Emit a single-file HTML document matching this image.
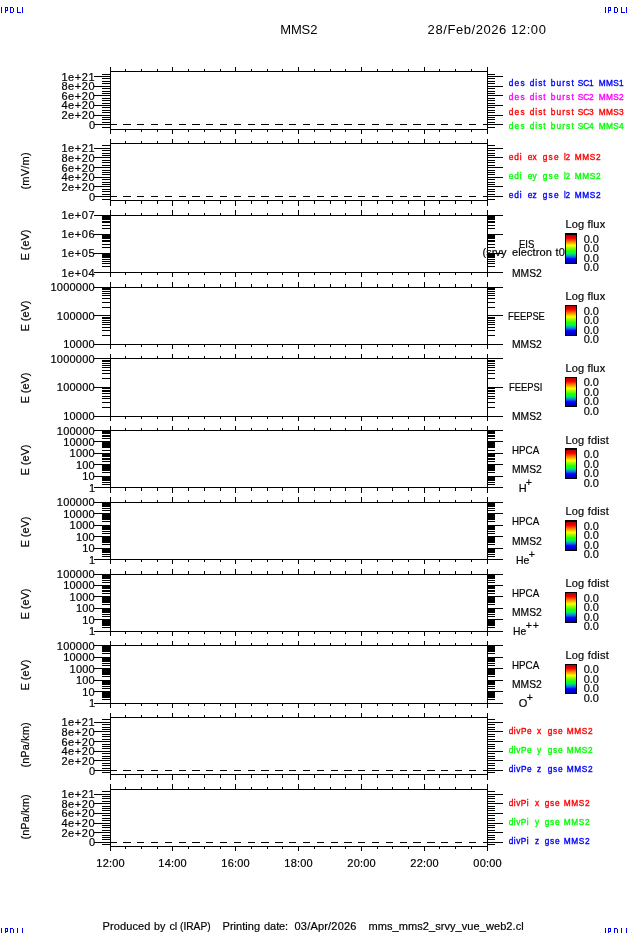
<!DOCTYPE html>
<html><head><meta charset="utf-8"><title>MMS2 28/Feb/2026 12:00</title>
<style>
html,body{margin:0;padding:0;background:#fff;}
body{width:630px;height:934px;position:relative;overflow:hidden;font-family:"Liberation Sans",sans-serif;color:#000;}
#labels{position:absolute;left:0;top:0;width:630px;height:934px;will-change:transform;}
.t{position:absolute;white-space:pre;line-height:1;-webkit-text-stroke:0.2px #000;font-family:"Liberation Sans",sans-serif;}
</style></head><body>
<svg width="630" height="934" viewBox="0 0 630 934" shape-rendering="crispEdges" style="position:absolute;left:0;top:0"><defs><linearGradient id="rb" x1="0" y1="0" x2="0" y2="1"><stop offset="0" stop-color="#b00000"/><stop offset="0.07" stop-color="#e00000"/><stop offset="0.12" stop-color="#ff0000"/><stop offset="0.24" stop-color="#ff8000"/><stop offset="0.37" stop-color="#ffff00"/><stop offset="0.48" stop-color="#80ff00"/><stop offset="0.58" stop-color="#20ff00"/><stop offset="0.64" stop-color="#00ff50"/><stop offset="0.71" stop-color="#00c0a0"/><stop offset="0.78" stop-color="#0070e8"/><stop offset="0.85" stop-color="#0000ff"/><stop offset="0.93" stop-color="#0000e0"/><stop offset="1" stop-color="#0000a0"/></linearGradient></defs><path d="M110 71h378v1h-378zM110 129h378v1h-378zM110 67h1v67h-1zM487 67h1v67h-1zM110 67h1v5h-1zM110 129h1v5h-1zM125 69h1v3h-1zM125 129h1v3h-1zM141 69h1v3h-1zM141 129h1v3h-1zM157 69h1v3h-1zM157 129h1v3h-1zM172 67h1v5h-1zM172 129h1v5h-1zM188 69h1v3h-1zM188 129h1v3h-1zM204 69h1v3h-1zM204 129h1v3h-1zM220 69h1v3h-1zM220 129h1v3h-1zM235 67h1v5h-1zM235 129h1v5h-1zM251 69h1v3h-1zM251 129h1v3h-1zM267 69h1v3h-1zM267 129h1v3h-1zM282 69h1v3h-1zM282 129h1v3h-1zM298 67h1v5h-1zM298 129h1v5h-1zM314 69h1v3h-1zM314 129h1v3h-1zM330 69h1v3h-1zM330 129h1v3h-1zM345 69h1v3h-1zM345 129h1v3h-1zM361 67h1v5h-1zM361 129h1v5h-1zM377 69h1v3h-1zM377 129h1v3h-1zM392 69h1v3h-1zM392 129h1v3h-1zM408 69h1v3h-1zM408 129h1v3h-1zM424 67h1v5h-1zM424 129h1v5h-1zM439 69h1v3h-1zM439 129h1v3h-1zM455 69h1v3h-1zM455 129h1v3h-1zM471 69h1v3h-1zM471 129h1v3h-1zM487 67h1v5h-1zM487 129h1v5h-1zM110 143h378v1h-378zM110 200h378v1h-378zM110 139h1v67h-1zM487 139h1v67h-1zM110 139h1v5h-1zM110 200h1v6h-1zM125 141h1v3h-1zM125 200h1v4h-1zM141 141h1v3h-1zM141 200h1v4h-1zM157 141h1v3h-1zM157 200h1v4h-1zM172 139h1v5h-1zM172 200h1v6h-1zM188 141h1v3h-1zM188 200h1v4h-1zM204 141h1v3h-1zM204 200h1v4h-1zM220 141h1v3h-1zM220 200h1v4h-1zM235 139h1v5h-1zM235 200h1v6h-1zM251 141h1v3h-1zM251 200h1v4h-1zM267 141h1v3h-1zM267 200h1v4h-1zM282 141h1v3h-1zM282 200h1v4h-1zM298 139h1v5h-1zM298 200h1v6h-1zM314 141h1v3h-1zM314 200h1v4h-1zM330 141h1v3h-1zM330 200h1v4h-1zM345 141h1v3h-1zM345 200h1v4h-1zM361 139h1v5h-1zM361 200h1v6h-1zM377 141h1v3h-1zM377 200h1v4h-1zM392 141h1v3h-1zM392 200h1v4h-1zM408 141h1v3h-1zM408 200h1v4h-1zM424 139h1v5h-1zM424 200h1v6h-1zM439 141h1v3h-1zM439 200h1v4h-1zM455 141h1v3h-1zM455 200h1v4h-1zM471 141h1v3h-1zM471 200h1v4h-1zM487 139h1v5h-1zM487 200h1v6h-1zM110 215h378v1h-378zM110 272h378v1h-378zM110 210h1v67h-1zM487 210h1v67h-1zM110 210h1v6h-1zM110 272h1v5h-1zM125 213h1v3h-1zM125 272h1v3h-1zM141 213h1v3h-1zM141 272h1v3h-1zM157 213h1v3h-1zM157 272h1v3h-1zM172 210h1v6h-1zM172 272h1v5h-1zM188 213h1v3h-1zM188 272h1v3h-1zM204 213h1v3h-1zM204 272h1v3h-1zM220 213h1v3h-1zM220 272h1v3h-1zM235 210h1v6h-1zM235 272h1v5h-1zM251 213h1v3h-1zM251 272h1v3h-1zM267 213h1v3h-1zM267 272h1v3h-1zM282 213h1v3h-1zM282 272h1v3h-1zM298 210h1v6h-1zM298 272h1v5h-1zM314 213h1v3h-1zM314 272h1v3h-1zM330 213h1v3h-1zM330 272h1v3h-1zM345 213h1v3h-1zM345 272h1v3h-1zM361 210h1v6h-1zM361 272h1v5h-1zM377 213h1v3h-1zM377 272h1v3h-1zM392 213h1v3h-1zM392 272h1v3h-1zM408 213h1v3h-1zM408 272h1v3h-1zM424 210h1v6h-1zM424 272h1v5h-1zM439 213h1v3h-1zM439 272h1v3h-1zM455 213h1v3h-1zM455 272h1v3h-1zM471 213h1v3h-1zM471 272h1v3h-1zM487 210h1v6h-1zM487 272h1v5h-1zM110 287h378v1h-378zM110 344h378v1h-378zM110 282h1v67h-1zM487 282h1v67h-1zM110 282h1v6h-1zM110 344h1v5h-1zM125 284h1v4h-1zM125 344h1v3h-1zM141 284h1v4h-1zM141 344h1v3h-1zM157 284h1v4h-1zM157 344h1v3h-1zM172 282h1v6h-1zM172 344h1v5h-1zM188 284h1v4h-1zM188 344h1v3h-1zM204 284h1v4h-1zM204 344h1v3h-1zM220 284h1v4h-1zM220 344h1v3h-1zM235 282h1v6h-1zM235 344h1v5h-1zM251 284h1v4h-1zM251 344h1v3h-1zM267 284h1v4h-1zM267 344h1v3h-1zM282 284h1v4h-1zM282 344h1v3h-1zM298 282h1v6h-1zM298 344h1v5h-1zM314 284h1v4h-1zM314 344h1v3h-1zM330 284h1v4h-1zM330 344h1v3h-1zM345 284h1v4h-1zM345 344h1v3h-1zM361 282h1v6h-1zM361 344h1v5h-1zM377 284h1v4h-1zM377 344h1v3h-1zM392 284h1v4h-1zM392 344h1v3h-1zM408 284h1v4h-1zM408 344h1v3h-1zM424 282h1v6h-1zM424 344h1v5h-1zM439 284h1v4h-1zM439 344h1v3h-1zM455 284h1v4h-1zM455 344h1v3h-1zM471 284h1v4h-1zM471 344h1v3h-1zM487 282h1v6h-1zM487 344h1v5h-1zM110 358h378v1h-378zM110 416h378v1h-378zM110 354h1v67h-1zM487 354h1v67h-1zM110 354h1v5h-1zM110 416h1v5h-1zM125 356h1v3h-1zM125 416h1v3h-1zM141 356h1v3h-1zM141 416h1v3h-1zM157 356h1v3h-1zM157 416h1v3h-1zM172 354h1v5h-1zM172 416h1v5h-1zM188 356h1v3h-1zM188 416h1v3h-1zM204 356h1v3h-1zM204 416h1v3h-1zM220 356h1v3h-1zM220 416h1v3h-1zM235 354h1v5h-1zM235 416h1v5h-1zM251 356h1v3h-1zM251 416h1v3h-1zM267 356h1v3h-1zM267 416h1v3h-1zM282 356h1v3h-1zM282 416h1v3h-1zM298 354h1v5h-1zM298 416h1v5h-1zM314 356h1v3h-1zM314 416h1v3h-1zM330 356h1v3h-1zM330 416h1v3h-1zM345 356h1v3h-1zM345 416h1v3h-1zM361 354h1v5h-1zM361 416h1v5h-1zM377 356h1v3h-1zM377 416h1v3h-1zM392 356h1v3h-1zM392 416h1v3h-1zM408 356h1v3h-1zM408 416h1v3h-1zM424 354h1v5h-1zM424 416h1v5h-1zM439 356h1v3h-1zM439 416h1v3h-1zM455 356h1v3h-1zM455 416h1v3h-1zM471 356h1v3h-1zM471 416h1v3h-1zM487 354h1v5h-1zM487 416h1v5h-1zM110 430h378v1h-378zM110 487h378v1h-378zM110 426h1v67h-1zM487 426h1v67h-1zM110 426h1v5h-1zM110 487h1v6h-1zM125 428h1v3h-1zM125 487h1v4h-1zM141 428h1v3h-1zM141 487h1v4h-1zM157 428h1v3h-1zM157 487h1v4h-1zM172 426h1v5h-1zM172 487h1v6h-1zM188 428h1v3h-1zM188 487h1v4h-1zM204 428h1v3h-1zM204 487h1v4h-1zM220 428h1v3h-1zM220 487h1v4h-1zM235 426h1v5h-1zM235 487h1v6h-1zM251 428h1v3h-1zM251 487h1v4h-1zM267 428h1v3h-1zM267 487h1v4h-1zM282 428h1v3h-1zM282 487h1v4h-1zM298 426h1v5h-1zM298 487h1v6h-1zM314 428h1v3h-1zM314 487h1v4h-1zM330 428h1v3h-1zM330 487h1v4h-1zM345 428h1v3h-1zM345 487h1v4h-1zM361 426h1v5h-1zM361 487h1v6h-1zM377 428h1v3h-1zM377 487h1v4h-1zM392 428h1v3h-1zM392 487h1v4h-1zM408 428h1v3h-1zM408 487h1v4h-1zM424 426h1v5h-1zM424 487h1v6h-1zM439 428h1v3h-1zM439 487h1v4h-1zM455 428h1v3h-1zM455 487h1v4h-1zM471 428h1v3h-1zM471 487h1v4h-1zM487 426h1v5h-1zM487 487h1v6h-1zM110 502h378v1h-378zM110 559h378v1h-378zM110 497h1v67h-1zM487 497h1v67h-1zM110 497h1v6h-1zM110 559h1v5h-1zM125 500h1v3h-1zM125 559h1v3h-1zM141 500h1v3h-1zM141 559h1v3h-1zM157 500h1v3h-1zM157 559h1v3h-1zM172 497h1v6h-1zM172 559h1v5h-1zM188 500h1v3h-1zM188 559h1v3h-1zM204 500h1v3h-1zM204 559h1v3h-1zM220 500h1v3h-1zM220 559h1v3h-1zM235 497h1v6h-1zM235 559h1v5h-1zM251 500h1v3h-1zM251 559h1v3h-1zM267 500h1v3h-1zM267 559h1v3h-1zM282 500h1v3h-1zM282 559h1v3h-1zM298 497h1v6h-1zM298 559h1v5h-1zM314 500h1v3h-1zM314 559h1v3h-1zM330 500h1v3h-1zM330 559h1v3h-1zM345 500h1v3h-1zM345 559h1v3h-1zM361 497h1v6h-1zM361 559h1v5h-1zM377 500h1v3h-1zM377 559h1v3h-1zM392 500h1v3h-1zM392 559h1v3h-1zM408 500h1v3h-1zM408 559h1v3h-1zM424 497h1v6h-1zM424 559h1v5h-1zM439 500h1v3h-1zM439 559h1v3h-1zM455 500h1v3h-1zM455 559h1v3h-1zM471 500h1v3h-1zM471 559h1v3h-1zM487 497h1v6h-1zM487 559h1v5h-1zM110 574h378v1h-378zM110 631h378v1h-378zM110 569h1v67h-1zM487 569h1v67h-1zM110 569h1v6h-1zM110 631h1v5h-1zM125 571h1v4h-1zM125 631h1v3h-1zM141 571h1v4h-1zM141 631h1v3h-1zM157 571h1v4h-1zM157 631h1v3h-1zM172 569h1v6h-1zM172 631h1v5h-1zM188 571h1v4h-1zM188 631h1v3h-1zM204 571h1v4h-1zM204 631h1v3h-1zM220 571h1v4h-1zM220 631h1v3h-1zM235 569h1v6h-1zM235 631h1v5h-1zM251 571h1v4h-1zM251 631h1v3h-1zM267 571h1v4h-1zM267 631h1v3h-1zM282 571h1v4h-1zM282 631h1v3h-1zM298 569h1v6h-1zM298 631h1v5h-1zM314 571h1v4h-1zM314 631h1v3h-1zM330 571h1v4h-1zM330 631h1v3h-1zM345 571h1v4h-1zM345 631h1v3h-1zM361 569h1v6h-1zM361 631h1v5h-1zM377 571h1v4h-1zM377 631h1v3h-1zM392 571h1v4h-1zM392 631h1v3h-1zM408 571h1v4h-1zM408 631h1v3h-1zM424 569h1v6h-1zM424 631h1v5h-1zM439 571h1v4h-1zM439 631h1v3h-1zM455 571h1v4h-1zM455 631h1v3h-1zM471 571h1v4h-1zM471 631h1v3h-1zM487 569h1v6h-1zM487 631h1v5h-1zM110 645h378v1h-378zM110 703h378v1h-378zM110 641h1v67h-1zM487 641h1v67h-1zM110 641h1v5h-1zM110 703h1v5h-1zM125 643h1v3h-1zM125 703h1v3h-1zM141 643h1v3h-1zM141 703h1v3h-1zM157 643h1v3h-1zM157 703h1v3h-1zM172 641h1v5h-1zM172 703h1v5h-1zM188 643h1v3h-1zM188 703h1v3h-1zM204 643h1v3h-1zM204 703h1v3h-1zM220 643h1v3h-1zM220 703h1v3h-1zM235 641h1v5h-1zM235 703h1v5h-1zM251 643h1v3h-1zM251 703h1v3h-1zM267 643h1v3h-1zM267 703h1v3h-1zM282 643h1v3h-1zM282 703h1v3h-1zM298 641h1v5h-1zM298 703h1v5h-1zM314 643h1v3h-1zM314 703h1v3h-1zM330 643h1v3h-1zM330 703h1v3h-1zM345 643h1v3h-1zM345 703h1v3h-1zM361 641h1v5h-1zM361 703h1v5h-1zM377 643h1v3h-1zM377 703h1v3h-1zM392 643h1v3h-1zM392 703h1v3h-1zM408 643h1v3h-1zM408 703h1v3h-1zM424 641h1v5h-1zM424 703h1v5h-1zM439 643h1v3h-1zM439 703h1v3h-1zM455 643h1v3h-1zM455 703h1v3h-1zM471 643h1v3h-1zM471 703h1v3h-1zM487 641h1v5h-1zM487 703h1v5h-1zM110 717h378v1h-378zM110 774h378v1h-378zM110 713h1v67h-1zM487 713h1v67h-1zM110 713h1v5h-1zM110 774h1v6h-1zM125 715h1v3h-1zM125 774h1v4h-1zM141 715h1v3h-1zM141 774h1v4h-1zM157 715h1v3h-1zM157 774h1v4h-1zM172 713h1v5h-1zM172 774h1v6h-1zM188 715h1v3h-1zM188 774h1v4h-1zM204 715h1v3h-1zM204 774h1v4h-1zM220 715h1v3h-1zM220 774h1v4h-1zM235 713h1v5h-1zM235 774h1v6h-1zM251 715h1v3h-1zM251 774h1v4h-1zM267 715h1v3h-1zM267 774h1v4h-1zM282 715h1v3h-1zM282 774h1v4h-1zM298 713h1v5h-1zM298 774h1v6h-1zM314 715h1v3h-1zM314 774h1v4h-1zM330 715h1v3h-1zM330 774h1v4h-1zM345 715h1v3h-1zM345 774h1v4h-1zM361 713h1v5h-1zM361 774h1v6h-1zM377 715h1v3h-1zM377 774h1v4h-1zM392 715h1v3h-1zM392 774h1v4h-1zM408 715h1v3h-1zM408 774h1v4h-1zM424 713h1v5h-1zM424 774h1v6h-1zM439 715h1v3h-1zM439 774h1v4h-1zM455 715h1v3h-1zM455 774h1v4h-1zM471 715h1v3h-1zM471 774h1v4h-1zM487 713h1v5h-1zM487 774h1v6h-1zM110 789h378v1h-378zM110 846h378v1h-378zM110 784h1v67h-1zM487 784h1v67h-1zM110 784h1v6h-1zM110 846h1v5h-1zM125 787h1v3h-1zM125 846h1v3h-1zM141 787h1v3h-1zM141 846h1v3h-1zM157 787h1v3h-1zM157 846h1v3h-1zM172 784h1v6h-1zM172 846h1v5h-1zM188 787h1v3h-1zM188 846h1v3h-1zM204 787h1v3h-1zM204 846h1v3h-1zM220 787h1v3h-1zM220 846h1v3h-1zM235 784h1v6h-1zM235 846h1v5h-1zM251 787h1v3h-1zM251 846h1v3h-1zM267 787h1v3h-1zM267 846h1v3h-1zM282 787h1v3h-1zM282 846h1v3h-1zM298 784h1v6h-1zM298 846h1v5h-1zM314 787h1v3h-1zM314 846h1v3h-1zM330 787h1v3h-1zM330 846h1v3h-1zM345 787h1v3h-1zM345 846h1v3h-1zM361 784h1v6h-1zM361 846h1v5h-1zM377 787h1v3h-1zM377 846h1v3h-1zM392 787h1v3h-1zM392 846h1v3h-1zM408 787h1v3h-1zM408 846h1v3h-1zM424 784h1v6h-1zM424 846h1v5h-1zM439 787h1v3h-1zM439 846h1v3h-1zM455 787h1v3h-1zM455 846h1v3h-1zM471 787h1v3h-1zM471 846h1v3h-1zM487 784h1v6h-1zM487 846h1v5h-1zM102 127h9v1h-9zM487 127h8v1h-8zM94 124h17v1h-17zM487 124h16v1h-16zM102 122h9v1h-9zM487 122h8v1h-8zM102 119h9v1h-9zM487 119h8v1h-8zM102 117h9v1h-9zM487 117h8v1h-8zM94 115h17v1h-17zM487 115h16v1h-16zM102 112h9v1h-9zM487 112h8v1h-8zM102 110h9v1h-9zM487 110h8v1h-8zM102 107h9v1h-9zM487 107h8v1h-8zM94 105h17v1h-17zM487 105h16v1h-16zM102 103h9v1h-9zM487 103h8v1h-8zM102 100h9v1h-9zM487 100h8v1h-8zM102 98h9v1h-9zM487 98h8v1h-8zM94 95h17v1h-17zM487 95h16v1h-16zM102 93h9v1h-9zM487 93h8v1h-8zM102 91h9v1h-9zM487 91h8v1h-8zM102 88h9v1h-9zM487 88h8v1h-8zM94 86h17v1h-17zM487 86h16v1h-16zM102 83h9v1h-9zM487 83h8v1h-8zM102 81h9v1h-9zM487 81h8v1h-8zM102 78h9v1h-9zM487 78h8v1h-8zM94 76h17v1h-17zM487 76h16v1h-16zM102 74h9v1h-9zM487 74h8v1h-8zM102 199h9v1h-9zM487 199h8v1h-8zM94 196h17v1h-17zM487 196h16v1h-16zM102 194h9v1h-9zM487 194h8v1h-8zM102 191h9v1h-9zM487 191h8v1h-8zM102 189h9v1h-9zM487 189h8v1h-8zM94 186h17v1h-17zM487 186h16v1h-16zM102 184h9v1h-9zM487 184h8v1h-8zM102 182h9v1h-9zM487 182h8v1h-8zM102 179h9v1h-9zM487 179h8v1h-8zM94 177h17v1h-17zM487 177h16v1h-16zM102 174h9v1h-9zM487 174h8v1h-8zM102 172h9v1h-9zM487 172h8v1h-8zM102 170h9v1h-9zM487 170h8v1h-8zM94 167h17v1h-17zM487 167h16v1h-16zM102 165h9v1h-9zM487 165h8v1h-8zM102 162h9v1h-9zM487 162h8v1h-8zM102 160h9v1h-9zM487 160h8v1h-8zM94 157h17v1h-17zM487 157h16v1h-16zM102 155h9v1h-9zM487 155h8v1h-8zM102 153h9v1h-9zM487 153h8v1h-8zM102 150h9v1h-9zM487 150h8v1h-8zM94 148h17v1h-17zM487 148h16v1h-16zM102 145h9v1h-9zM487 145h8v1h-8zM102 772h9v1h-9zM487 772h8v1h-8zM94 770h17v1h-17zM487 770h16v1h-16zM102 768h9v1h-9zM487 768h8v1h-8zM102 765h9v1h-9zM487 765h8v1h-8zM102 763h9v1h-9zM487 763h8v1h-8zM94 760h17v1h-17zM487 760h16v1h-16zM102 758h9v1h-9zM487 758h8v1h-8zM102 756h9v1h-9zM487 756h8v1h-8zM102 753h9v1h-9zM487 753h8v1h-8zM94 751h17v1h-17zM487 751h16v1h-16zM102 748h9v1h-9zM487 748h8v1h-8zM102 746h9v1h-9zM487 746h8v1h-8zM102 744h9v1h-9zM487 744h8v1h-8zM94 741h17v1h-17zM487 741h16v1h-16zM102 739h9v1h-9zM487 739h8v1h-8zM102 736h9v1h-9zM487 736h8v1h-8zM102 734h9v1h-9zM487 734h8v1h-8zM94 731h17v1h-17zM487 731h16v1h-16zM102 729h9v1h-9zM487 729h8v1h-8zM102 727h9v1h-9zM487 727h8v1h-8zM102 724h9v1h-9zM487 724h8v1h-8zM94 722h17v1h-17zM487 722h16v1h-16zM102 719h9v1h-9zM487 719h8v1h-8zM102 844h9v1h-9zM487 844h8v1h-8zM94 842h17v1h-17zM487 842h16v1h-16zM102 839h9v1h-9zM487 839h8v1h-8zM102 837h9v1h-9zM487 837h8v1h-8zM102 835h9v1h-9zM487 835h8v1h-8zM94 832h17v1h-17zM487 832h16v1h-16zM102 830h9v1h-9zM487 830h8v1h-8zM102 827h9v1h-9zM487 827h8v1h-8zM102 825h9v1h-9zM487 825h8v1h-8zM94 823h17v1h-17zM487 823h16v1h-16zM102 820h9v1h-9zM487 820h8v1h-8zM102 818h9v1h-9zM487 818h8v1h-8zM102 815h9v1h-9zM487 815h8v1h-8zM94 813h17v1h-17zM487 813h16v1h-16zM102 810h9v1h-9zM487 810h8v1h-8zM102 808h9v1h-9zM487 808h8v1h-8zM102 806h9v1h-9zM487 806h8v1h-8zM94 803h17v1h-17zM487 803h16v1h-16zM102 801h9v1h-9zM487 801h8v1h-8zM102 798h9v1h-9zM487 798h8v1h-8zM102 796h9v1h-9zM487 796h8v1h-8zM94 794h17v1h-17zM487 794h16v1h-16zM102 791h9v1h-9zM487 791h8v1h-8zM94 215h17v1h-17zM487 215h16v1h-16zM102 228h9v1h-9zM487 228h8v1h-8zM102 225h9v1h-9zM487 225h8v1h-8zM102 222h9v1h-9zM487 222h8v1h-8zM102 221h9v1h-9zM487 221h8v1h-8zM102 219h9v1h-9zM487 219h8v1h-8zM102 218h9v1h-9zM487 218h8v1h-8zM102 217h9v1h-9zM487 217h8v1h-8zM102 216h9v1h-9zM487 216h8v1h-8zM94 234h17v1h-17zM487 234h16v1h-16zM102 247h9v1h-9zM487 247h8v1h-8zM102 244h9v1h-9zM487 244h8v1h-8zM102 241h9v1h-9zM487 241h8v1h-8zM102 240h9v1h-9zM487 240h8v1h-8zM102 238h9v1h-9zM487 238h8v1h-8zM102 237h9v1h-9zM487 237h8v1h-8zM102 236h9v1h-9zM487 236h8v1h-8zM102 235h9v1h-9zM487 235h8v1h-8zM94 253h17v1h-17zM487 253h16v1h-16zM102 266h9v1h-9zM487 266h8v1h-8zM102 263h9v1h-9zM487 263h8v1h-8zM102 261h9v1h-9zM487 261h8v1h-8zM102 259h9v1h-9zM487 259h8v1h-8zM102 257h9v1h-9zM487 257h8v1h-8zM102 256h9v1h-9zM487 256h8v1h-8zM102 255h9v1h-9zM487 255h8v1h-8zM102 254h9v1h-9zM487 254h8v1h-8zM94 272h17v1h-17zM487 272h16v1h-16zM94 287h17v1h-17zM487 287h16v1h-16zM102 307h9v1h-9zM487 307h8v1h-8zM102 302h9v1h-9zM487 302h8v1h-8zM102 298h9v1h-9zM487 298h8v1h-8zM102 295h9v1h-9zM487 295h8v1h-8zM102 293h9v1h-9zM487 293h8v1h-8zM102 291h9v1h-9zM487 291h8v1h-8zM102 289h9v1h-9zM487 289h8v1h-8zM102 288h9v1h-9zM487 288h8v1h-8zM94 315h17v1h-17zM487 315h16v1h-16zM102 335h9v1h-9zM487 335h8v1h-8zM102 330h9v1h-9zM487 330h8v1h-8zM102 327h9v1h-9zM487 327h8v1h-8zM102 324h9v1h-9zM487 324h8v1h-8zM102 322h9v1h-9zM487 322h8v1h-8zM102 320h9v1h-9zM487 320h8v1h-8zM102 318h9v1h-9zM487 318h8v1h-8zM102 317h9v1h-9zM487 317h8v1h-8zM94 344h17v1h-17zM487 344h16v1h-16zM94 358h17v1h-17zM487 358h16v1h-16zM102 378h9v1h-9zM487 378h8v1h-8zM102 373h9v1h-9zM487 373h8v1h-8zM102 370h9v1h-9zM487 370h8v1h-8zM102 367h9v1h-9zM487 367h8v1h-8zM102 365h9v1h-9zM487 365h8v1h-8zM102 363h9v1h-9zM487 363h8v1h-8zM102 361h9v1h-9zM487 361h8v1h-8zM102 360h9v1h-9zM487 360h8v1h-8zM94 387h17v1h-17zM487 387h16v1h-16zM102 407h9v1h-9zM487 407h8v1h-8zM102 402h9v1h-9zM487 402h8v1h-8zM102 398h9v1h-9zM487 398h8v1h-8zM102 396h9v1h-9zM487 396h8v1h-8zM102 393h9v1h-9zM487 393h8v1h-8zM102 391h9v1h-9zM487 391h8v1h-8zM102 390h9v1h-9zM487 390h8v1h-8zM102 388h9v1h-9zM487 388h8v1h-8zM94 416h17v1h-17zM487 416h16v1h-16zM94 430h17v1h-17zM487 430h16v1h-16zM102 438h9v1h-9zM487 438h8v1h-8zM102 436h9v1h-9zM487 436h8v1h-8zM102 435h9v1h-9zM487 435h8v1h-8zM102 433h9v1h-9zM487 433h8v1h-8zM102 433h9v1h-9zM487 433h8v1h-8zM102 432h9v1h-9zM487 432h8v1h-8zM102 431h9v1h-9zM487 431h8v1h-8zM102 431h9v1h-9zM487 431h8v1h-8zM94 441h17v1h-17zM487 441h16v1h-16zM102 450h9v1h-9zM487 450h8v1h-8zM102 447h9v1h-9zM487 447h8v1h-8zM102 446h9v1h-9zM487 446h8v1h-8zM102 445h9v1h-9zM487 445h8v1h-8zM102 444h9v1h-9zM487 444h8v1h-8zM102 443h9v1h-9zM487 443h8v1h-8zM102 443h9v1h-9zM487 443h8v1h-8zM102 442h9v1h-9zM487 442h8v1h-8zM94 453h17v1h-17zM487 453h16v1h-16zM102 461h9v1h-9zM487 461h8v1h-8zM102 459h9v1h-9zM487 459h8v1h-8zM102 458h9v1h-9zM487 458h8v1h-8zM102 456h9v1h-9zM487 456h8v1h-8zM102 456h9v1h-9zM487 456h8v1h-8zM102 455h9v1h-9zM487 455h8v1h-8zM102 454h9v1h-9zM487 454h8v1h-8zM102 453h9v1h-9zM487 453h8v1h-8zM94 464h17v1h-17zM487 464h16v1h-16zM102 472h9v1h-9zM487 472h8v1h-8zM102 470h9v1h-9zM487 470h8v1h-8zM102 469h9v1h-9zM487 469h8v1h-8zM102 468h9v1h-9zM487 468h8v1h-8zM102 467h9v1h-9zM487 467h8v1h-8zM102 466h9v1h-9zM487 466h8v1h-8zM102 466h9v1h-9zM487 466h8v1h-8zM102 465h9v1h-9zM487 465h8v1h-8zM94 476h17v1h-17zM487 476h16v1h-16zM102 484h9v1h-9zM487 484h8v1h-8zM102 482h9v1h-9zM487 482h8v1h-8zM102 480h9v1h-9zM487 480h8v1h-8zM102 479h9v1h-9zM487 479h8v1h-8zM102 478h9v1h-9zM487 478h8v1h-8zM102 478h9v1h-9zM487 478h8v1h-8zM102 477h9v1h-9zM487 477h8v1h-8zM102 476h9v1h-9zM487 476h8v1h-8zM94 487h17v1h-17zM487 487h16v1h-16zM94 502h17v1h-17zM487 502h16v1h-16zM102 510h9v1h-9zM487 510h8v1h-8zM102 508h9v1h-9zM487 508h8v1h-8zM102 506h9v1h-9zM487 506h8v1h-8zM102 505h9v1h-9zM487 505h8v1h-8zM102 504h9v1h-9zM487 504h8v1h-8zM102 504h9v1h-9zM487 504h8v1h-8zM102 503h9v1h-9zM487 503h8v1h-8zM102 502h9v1h-9zM487 502h8v1h-8zM94 513h17v1h-17zM487 513h16v1h-16zM102 521h9v1h-9zM487 521h8v1h-8zM102 519h9v1h-9zM487 519h8v1h-8zM102 518h9v1h-9zM487 518h8v1h-8zM102 517h9v1h-9zM487 517h8v1h-8zM102 516h9v1h-9zM487 516h8v1h-8zM102 515h9v1h-9zM487 515h8v1h-8zM102 514h9v1h-9zM487 514h8v1h-8zM102 514h9v1h-9zM487 514h8v1h-8zM94 525h17v1h-17zM487 525h16v1h-16zM102 533h9v1h-9zM487 533h8v1h-8zM102 531h9v1h-9zM487 531h8v1h-8zM102 529h9v1h-9zM487 529h8v1h-8zM102 528h9v1h-9zM487 528h8v1h-8zM102 527h9v1h-9zM487 527h8v1h-8zM102 526h9v1h-9zM487 526h8v1h-8zM102 526h9v1h-9zM487 526h8v1h-8zM102 525h9v1h-9zM487 525h8v1h-8zM94 536h17v1h-17zM487 536h16v1h-16zM102 544h9v1h-9zM487 544h8v1h-8zM102 542h9v1h-9zM487 542h8v1h-8zM102 541h9v1h-9zM487 541h8v1h-8zM102 540h9v1h-9zM487 540h8v1h-8zM102 539h9v1h-9zM487 539h8v1h-8zM102 538h9v1h-9zM487 538h8v1h-8zM102 537h9v1h-9zM487 537h8v1h-8zM102 537h9v1h-9zM487 537h8v1h-8zM94 548h17v1h-17zM487 548h16v1h-16zM102 556h9v1h-9zM487 556h8v1h-8zM102 554h9v1h-9zM487 554h8v1h-8zM102 552h9v1h-9zM487 552h8v1h-8zM102 551h9v1h-9zM487 551h8v1h-8zM102 550h9v1h-9zM487 550h8v1h-8zM102 549h9v1h-9zM487 549h8v1h-8zM102 549h9v1h-9zM487 549h8v1h-8zM102 548h9v1h-9zM487 548h8v1h-8zM94 559h17v1h-17zM487 559h16v1h-16zM94 574h17v1h-17zM487 574h16v1h-16zM102 582h9v1h-9zM487 582h8v1h-8zM102 580h9v1h-9zM487 580h8v1h-8zM102 578h9v1h-9zM487 578h8v1h-8zM102 577h9v1h-9zM487 577h8v1h-8zM102 576h9v1h-9zM487 576h8v1h-8zM102 575h9v1h-9zM487 575h8v1h-8zM102 575h9v1h-9zM487 575h8v1h-8zM102 574h9v1h-9zM487 574h8v1h-8zM94 585h17v1h-17zM487 585h16v1h-16zM102 593h9v1h-9zM487 593h8v1h-8zM102 591h9v1h-9zM487 591h8v1h-8zM102 590h9v1h-9zM487 590h8v1h-8zM102 588h9v1h-9zM487 588h8v1h-8zM102 588h9v1h-9zM487 588h8v1h-8zM102 587h9v1h-9zM487 587h8v1h-8zM102 586h9v1h-9zM487 586h8v1h-8zM102 586h9v1h-9zM487 586h8v1h-8zM94 596h17v1h-17zM487 596h16v1h-16zM102 604h9v1h-9zM487 604h8v1h-8zM102 602h9v1h-9zM487 602h8v1h-8zM102 601h9v1h-9zM487 601h8v1h-8zM102 600h9v1h-9zM487 600h8v1h-8zM102 599h9v1h-9zM487 599h8v1h-8zM102 598h9v1h-9zM487 598h8v1h-8zM102 598h9v1h-9zM487 598h8v1h-8zM102 597h9v1h-9zM487 597h8v1h-8zM94 608h17v1h-17zM487 608h16v1h-16zM102 616h9v1h-9zM487 616h8v1h-8zM102 614h9v1h-9zM487 614h8v1h-8zM102 612h9v1h-9zM487 612h8v1h-8zM102 611h9v1h-9zM487 611h8v1h-8zM102 610h9v1h-9zM487 610h8v1h-8zM102 610h9v1h-9zM487 610h8v1h-8zM102 609h9v1h-9zM487 609h8v1h-8zM102 608h9v1h-9zM487 608h8v1h-8zM94 619h17v1h-17zM487 619h16v1h-16zM102 627h9v1h-9zM487 627h8v1h-8zM102 625h9v1h-9zM487 625h8v1h-8zM102 624h9v1h-9zM487 624h8v1h-8zM102 623h9v1h-9zM487 623h8v1h-8zM102 622h9v1h-9zM487 622h8v1h-8zM102 621h9v1h-9zM487 621h8v1h-8zM102 621h9v1h-9zM487 621h8v1h-8zM102 620h9v1h-9zM487 620h8v1h-8zM94 631h17v1h-17zM487 631h16v1h-16zM94 645h17v1h-17zM487 645h16v1h-16zM102 653h9v1h-9zM487 653h8v1h-8zM102 651h9v1h-9zM487 651h8v1h-8zM102 650h9v1h-9zM487 650h8v1h-8zM102 649h9v1h-9zM487 649h8v1h-8zM102 648h9v1h-9zM487 648h8v1h-8zM102 647h9v1h-9zM487 647h8v1h-8zM102 646h9v1h-9zM487 646h8v1h-8zM102 646h9v1h-9zM487 646h8v1h-8zM94 657h17v1h-17zM487 657h16v1h-16zM102 665h9v1h-9zM487 665h8v1h-8zM102 663h9v1h-9zM487 663h8v1h-8zM102 661h9v1h-9zM487 661h8v1h-8zM102 660h9v1h-9zM487 660h8v1h-8zM102 659h9v1h-9zM487 659h8v1h-8zM102 659h9v1h-9zM487 659h8v1h-8zM102 658h9v1h-9zM487 658h8v1h-8zM102 657h9v1h-9zM487 657h8v1h-8zM94 668h17v1h-17zM487 668h16v1h-16zM102 676h9v1h-9zM487 676h8v1h-8zM102 674h9v1h-9zM487 674h8v1h-8zM102 673h9v1h-9zM487 673h8v1h-8zM102 672h9v1h-9zM487 672h8v1h-8zM102 671h9v1h-9zM487 671h8v1h-8zM102 670h9v1h-9zM487 670h8v1h-8zM102 669h9v1h-9zM487 669h8v1h-8zM102 669h9v1h-9zM487 669h8v1h-8zM94 680h17v1h-17zM487 680h16v1h-16zM102 688h9v1h-9zM487 688h8v1h-8zM102 686h9v1h-9zM487 686h8v1h-8zM102 684h9v1h-9zM487 684h8v1h-8zM102 683h9v1h-9zM487 683h8v1h-8zM102 682h9v1h-9zM487 682h8v1h-8zM102 681h9v1h-9zM487 681h8v1h-8zM102 681h9v1h-9zM487 681h8v1h-8zM102 680h9v1h-9zM487 680h8v1h-8zM94 691h17v1h-17zM487 691h16v1h-16zM102 699h9v1h-9zM487 699h8v1h-8zM102 697h9v1h-9zM487 697h8v1h-8zM102 696h9v1h-9zM487 696h8v1h-8zM102 695h9v1h-9zM487 695h8v1h-8zM102 694h9v1h-9zM487 694h8v1h-8zM102 693h9v1h-9zM487 693h8v1h-8zM102 692h9v1h-9zM487 692h8v1h-8zM102 692h9v1h-9zM487 692h8v1h-8zM94 703h17v1h-17zM487 703h16v1h-16z" fill="#000"/><path d="M109.4 124.5H488" stroke="#000" stroke-width="1" stroke-dasharray="7.3 6.52" fill="none"/><path d="M109.4 196.5H488" stroke="#000" stroke-width="1" stroke-dasharray="7.3 6.52" fill="none"/><path d="M109.4 770.5H488" stroke="#000" stroke-width="1" stroke-dasharray="7.3 6.52" fill="none"/><path d="M109.4 842.5H488" stroke="#000" stroke-width="1" stroke-dasharray="7.3 6.52" fill="none"/><g fill="#00f"><title>IPDLI</title><path d="M1 7h1v6h-1zM5 7h1v6h-1zM5 7h3v1h-3zM7 7h1v4h-1zM5 10h3v1h-3zM10 7h1v6h-1zM10 7h3v1h-3zM10 12h3v1h-3zM13 8h1v4h-1zM17 7h1v6h-1zM17 12h4v1h-4zM22 7h1v6h-1zM605 7h1v6h-1zM608 7h1v6h-1zM608 7h3v1h-3zM610 7h1v4h-1zM608 10h3v1h-3zM614 7h1v6h-1zM614 7h3v1h-3zM614 12h3v1h-3zM617 8h1v4h-1zM621 7h1v6h-1zM621 12h4v1h-4zM626 7h1v6h-1zM1 928h1v5h-1zM5 928h1v5h-1zM5 928h3v1h-3zM7 928h1v4h-1zM5 931h3v1h-3zM10 928h1v5h-1zM10 928h3v1h-3zM13 929h1v4h-1zM17 928h1v5h-1zM22 928h1v5h-1zM605 928h1v5h-1zM608 928h1v5h-1zM608 928h3v1h-3zM610 928h1v4h-1zM608 931h3v1h-3zM614 928h1v5h-1zM614 928h3v1h-3zM617 929h1v4h-1zM621 928h1v5h-1zM626 928h1v5h-1z"/></g></svg>
<div id="labels">
<span class="t" style="left:61.39px;top:71.69px;font-size:11px;letter-spacing:0.597px;">1e+21</span>
<span class="t" style="left:61.39px;top:80.69px;font-size:11px;letter-spacing:0.597px;">8e+20</span>
<span class="t" style="left:61.39px;top:90.69px;font-size:11px;letter-spacing:0.597px;">6e+20</span>
<span class="t" style="left:61.39px;top:99.69px;font-size:11px;letter-spacing:0.597px;">4e+20</span>
<span class="t" style="left:61.39px;top:109.69px;font-size:11px;letter-spacing:0.597px;">2e+20</span>
<span class="t" style="left:89.06px;top:119.69px;font-size:11px;letter-spacing:0.000px;">0</span>
<span class="t" style="left:61.39px;top:142.69px;font-size:11px;letter-spacing:0.597px;">1e+21</span>
<span class="t" style="left:61.39px;top:152.69px;font-size:11px;letter-spacing:0.597px;">8e+20</span>
<span class="t" style="left:61.39px;top:162.69px;font-size:11px;letter-spacing:0.597px;">6e+20</span>
<span class="t" style="left:61.39px;top:171.69px;font-size:11px;letter-spacing:0.597px;">4e+20</span>
<span class="t" style="left:61.39px;top:181.69px;font-size:11px;letter-spacing:0.597px;">2e+20</span>
<span class="t" style="left:89.06px;top:191.69px;font-size:11px;letter-spacing:0.000px;">0</span>
<span class="t" style="left:61.39px;top:716.69px;font-size:11px;letter-spacing:0.597px;">1e+21</span>
<span class="t" style="left:61.39px;top:726.69px;font-size:11px;letter-spacing:0.597px;">8e+20</span>
<span class="t" style="left:61.39px;top:736.69px;font-size:11px;letter-spacing:0.597px;">6e+20</span>
<span class="t" style="left:61.39px;top:745.69px;font-size:11px;letter-spacing:0.597px;">4e+20</span>
<span class="t" style="left:61.39px;top:755.69px;font-size:11px;letter-spacing:0.597px;">2e+20</span>
<span class="t" style="left:89.06px;top:765.69px;font-size:11px;letter-spacing:0.000px;">0</span>
<span class="t" style="left:61.39px;top:788.69px;font-size:11px;letter-spacing:0.597px;">1e+21</span>
<span class="t" style="left:61.39px;top:798.69px;font-size:11px;letter-spacing:0.597px;">8e+20</span>
<span class="t" style="left:61.39px;top:807.69px;font-size:11px;letter-spacing:0.597px;">6e+20</span>
<span class="t" style="left:61.39px;top:817.69px;font-size:11px;letter-spacing:0.597px;">4e+20</span>
<span class="t" style="left:61.39px;top:827.69px;font-size:11px;letter-spacing:0.597px;">2e+20</span>
<span class="t" style="left:89.06px;top:836.69px;font-size:11px;letter-spacing:0.000px;">0</span>
<span class="t" style="left:61.39px;top:209.69px;font-size:11px;letter-spacing:0.597px;">1e+07</span>
<span class="t" style="left:61.39px;top:228.69px;font-size:11px;letter-spacing:0.597px;">1e+06</span>
<span class="t" style="left:61.39px;top:247.69px;font-size:11px;letter-spacing:0.597px;">1e+05</span>
<span class="t" style="left:61.39px;top:267.69px;font-size:11px;letter-spacing:0.597px;">1e+04</span>
<span class="t" style="left:50.48px;top:281.69px;font-size:11px;letter-spacing:0.223px;">1000000</span>
<span class="t" style="left:56.84px;top:310.69px;font-size:11px;letter-spacing:0.221px;">100000</span>
<span class="t" style="left:63.20px;top:338.69px;font-size:11px;letter-spacing:0.218px;">10000</span>
<span class="t" style="left:50.48px;top:353.69px;font-size:11px;letter-spacing:0.223px;">1000000</span>
<span class="t" style="left:56.84px;top:381.69px;font-size:11px;letter-spacing:0.221px;">100000</span>
<span class="t" style="left:63.20px;top:410.69px;font-size:11px;letter-spacing:0.218px;">10000</span>
<span class="t" style="left:56.84px;top:425.69px;font-size:11px;letter-spacing:0.221px;">100000</span>
<span class="t" style="left:63.20px;top:436.69px;font-size:11px;letter-spacing:0.218px;">10000</span>
<span class="t" style="left:69.56px;top:447.69px;font-size:11px;letter-spacing:0.212px;">1000</span>
<span class="t" style="left:75.92px;top:459.69px;font-size:11px;letter-spacing:0.202px;">100</span>
<span class="t" style="left:82.28px;top:470.69px;font-size:11px;letter-spacing:0.169px;">10</span>
<span class="t" style="left:89.06px;top:482.69px;font-size:11px;letter-spacing:0.000px;">1</span>
<span class="t" style="left:56.84px;top:496.69px;font-size:11px;letter-spacing:0.221px;">100000</span>
<span class="t" style="left:63.20px;top:508.69px;font-size:11px;letter-spacing:0.218px;">10000</span>
<span class="t" style="left:69.56px;top:519.69px;font-size:11px;letter-spacing:0.212px;">1000</span>
<span class="t" style="left:75.92px;top:531.69px;font-size:11px;letter-spacing:0.202px;">100</span>
<span class="t" style="left:82.28px;top:542.69px;font-size:11px;letter-spacing:0.169px;">10</span>
<span class="t" style="left:89.06px;top:554.69px;font-size:11px;letter-spacing:0.000px;">1</span>
<span class="t" style="left:56.84px;top:568.69px;font-size:11px;letter-spacing:0.221px;">100000</span>
<span class="t" style="left:63.20px;top:579.69px;font-size:11px;letter-spacing:0.218px;">10000</span>
<span class="t" style="left:69.56px;top:591.69px;font-size:11px;letter-spacing:0.212px;">1000</span>
<span class="t" style="left:75.92px;top:602.69px;font-size:11px;letter-spacing:0.202px;">100</span>
<span class="t" style="left:82.28px;top:614.69px;font-size:11px;letter-spacing:0.169px;">10</span>
<span class="t" style="left:89.06px;top:625.69px;font-size:11px;letter-spacing:0.000px;">1</span>
<span class="t" style="left:56.84px;top:640.69px;font-size:11px;letter-spacing:0.221px;">100000</span>
<span class="t" style="left:63.20px;top:651.69px;font-size:11px;letter-spacing:0.218px;">10000</span>
<span class="t" style="left:69.56px;top:663.69px;font-size:11px;letter-spacing:0.212px;">1000</span>
<span class="t" style="left:75.92px;top:674.69px;font-size:11px;letter-spacing:0.202px;">100</span>
<span class="t" style="left:82.28px;top:686.69px;font-size:11px;letter-spacing:0.169px;">10</span>
<span class="t" style="left:89.06px;top:697.69px;font-size:11px;letter-spacing:0.000px;">1</span>
<span class="t" style="left:29.10px;top:171.29px;font-size:11px;letter-spacing:0.234px;transform-origin:0 0;transform:rotate(-90deg) translate(-18.60px,-9.31px);">(mV/m)</span>
<span class="t" style="left:29.10px;top:244.74px;font-size:11px;letter-spacing:-0.077px;transform-origin:0 0;transform:rotate(-90deg) translate(-15.40px,-9.31px);">E (eV)</span>
<span class="t" style="left:29.10px;top:316.49px;font-size:11px;letter-spacing:-0.077px;transform-origin:0 0;transform:rotate(-90deg) translate(-15.40px,-9.31px);">E (eV)</span>
<span class="t" style="left:29.10px;top:388.24px;font-size:11px;letter-spacing:-0.077px;transform-origin:0 0;transform:rotate(-90deg) translate(-15.40px,-9.31px);">E (eV)</span>
<span class="t" style="left:29.10px;top:460.00px;font-size:11px;letter-spacing:-0.077px;transform-origin:0 0;transform:rotate(-90deg) translate(-15.40px,-9.31px);">E (eV)</span>
<span class="t" style="left:29.10px;top:531.75px;font-size:11px;letter-spacing:-0.077px;transform-origin:0 0;transform:rotate(-90deg) translate(-15.40px,-9.31px);">E (eV)</span>
<span class="t" style="left:29.10px;top:603.50px;font-size:11px;letter-spacing:-0.077px;transform-origin:0 0;transform:rotate(-90deg) translate(-15.40px,-9.31px);">E (eV)</span>
<span class="t" style="left:29.10px;top:675.25px;font-size:11px;letter-spacing:-0.077px;transform-origin:0 0;transform:rotate(-90deg) translate(-15.40px,-9.31px);">E (eV)</span>
<span class="t" style="left:29.10px;top:745.30px;font-size:11px;letter-spacing:0.082px;transform-origin:0 0;transform:rotate(-90deg) translate(-22.60px,-9.31px);">(nPa/km)</span>
<span class="t" style="left:29.10px;top:817.05px;font-size:11px;letter-spacing:0.082px;transform-origin:0 0;transform:rotate(-90deg) translate(-22.60px,-9.31px);">(nPa/km)</span>
<span class="t" style="left:280.20px;top:23.00px;font-size:13px;letter-spacing:-0.121px;-webkit-text-stroke:0;">MMS2</span>
<span class="t" style="left:427.60px;top:23.00px;font-size:13px;letter-spacing:0.570px;-webkit-text-stroke:0;">28/Feb/2026 12:00</span>
<span class="t" style="left:96.35px;top:857.69px;font-size:11px;letter-spacing:0.184px;">12:00</span>
<span class="t" style="left:158.35px;top:857.69px;font-size:11px;letter-spacing:0.184px;">14:00</span>
<span class="t" style="left:221.35px;top:857.69px;font-size:11px;letter-spacing:0.184px;">16:00</span>
<span class="t" style="left:284.35px;top:857.69px;font-size:11px;letter-spacing:0.184px;">18:00</span>
<span class="t" style="left:347.35px;top:857.69px;font-size:11px;letter-spacing:0.184px;">20:00</span>
<span class="t" style="left:410.35px;top:857.69px;font-size:11px;letter-spacing:0.184px;">22:00</span>
<span class="t" style="left:473.35px;top:857.69px;font-size:11px;letter-spacing:0.184px;">00:00</span>
<span class="t" style="left:102.50px;top:920.69px;font-size:11px;letter-spacing:0.125px;">Produced</span>
<span class="t" style="left:153.50px;top:920.69px;font-size:11px;letter-spacing:0.000px;transform-origin:0 0;transform:scaleX(0.9720);">by</span>
<span class="t" style="left:169.50px;top:920.69px;font-size:11px;letter-spacing:-0.238px;">cl</span>
<span class="t" style="left:179.90px;top:920.69px;font-size:11px;letter-spacing:0.000px;transform-origin:0 0;transform:scaleX(0.9273);">(IRAP)</span>
<span class="t" style="left:222.50px;top:920.69px;font-size:11px;letter-spacing:0.041px;">Printing</span>
<span class="t" style="left:264.10px;top:920.69px;font-size:11px;letter-spacing:-0.100px;">date:</span>
<span class="t" style="left:294.50px;top:920.69px;font-size:11px;letter-spacing:0.200px;">03/Apr/2026</span>
<span class="t" style="left:368.50px;top:920.69px;font-size:11px;letter-spacing:0.072px;">mms_mms2_srvy_vue_web2.cl</span>
<span class="t" style="left:508.70px;top:79.17px;font-size:8.3px;letter-spacing:1.312px;color:#00f;-webkit-text-stroke:0.35px #00f;">des</span>
<span class="t" style="left:529.70px;top:79.17px;font-size:8.3px;letter-spacing:1.026px;color:#00f;-webkit-text-stroke:0.35px #00f;">dist</span>
<span class="t" style="left:550.70px;top:79.17px;font-size:8.3px;letter-spacing:1.137px;color:#00f;-webkit-text-stroke:0.35px #00f;">burst</span>
<span class="t" style="left:577.70px;top:79.17px;font-size:8.3px;letter-spacing:-0.062px;color:#00f;-webkit-text-stroke:0.35px #00f;">SC1</span>
<span class="t" style="left:598.70px;top:79.17px;font-size:8.3px;letter-spacing:0.349px;color:#00f;-webkit-text-stroke:0.35px #00f;">MMS1</span>
<span class="t" style="left:508.70px;top:93.17px;font-size:8.3px;letter-spacing:1.312px;color:#f0f;-webkit-text-stroke:0.35px #f0f;">des</span>
<span class="t" style="left:529.70px;top:93.17px;font-size:8.3px;letter-spacing:1.026px;color:#f0f;-webkit-text-stroke:0.35px #f0f;">dist</span>
<span class="t" style="left:550.70px;top:93.17px;font-size:8.3px;letter-spacing:1.137px;color:#f0f;-webkit-text-stroke:0.35px #f0f;">burst</span>
<span class="t" style="left:577.70px;top:93.17px;font-size:8.3px;letter-spacing:-0.062px;color:#f0f;-webkit-text-stroke:0.35px #f0f;">SC2</span>
<span class="t" style="left:598.70px;top:93.17px;font-size:8.3px;letter-spacing:0.349px;color:#f0f;-webkit-text-stroke:0.35px #f0f;">MMS2</span>
<span class="t" style="left:508.70px;top:108.17px;font-size:8.3px;letter-spacing:1.312px;color:#f00;-webkit-text-stroke:0.35px #f00;">des</span>
<span class="t" style="left:529.70px;top:108.17px;font-size:8.3px;letter-spacing:1.026px;color:#f00;-webkit-text-stroke:0.35px #f00;">dist</span>
<span class="t" style="left:550.70px;top:108.17px;font-size:8.3px;letter-spacing:1.137px;color:#f00;-webkit-text-stroke:0.35px #f00;">burst</span>
<span class="t" style="left:577.70px;top:108.17px;font-size:8.3px;letter-spacing:-0.062px;color:#f00;-webkit-text-stroke:0.35px #f00;">SC3</span>
<span class="t" style="left:598.70px;top:108.17px;font-size:8.3px;letter-spacing:0.349px;color:#f00;-webkit-text-stroke:0.35px #f00;">MMS3</span>
<span class="t" style="left:508.70px;top:122.17px;font-size:8.3px;letter-spacing:1.312px;color:#0f0;-webkit-text-stroke:0.35px #0f0;">des</span>
<span class="t" style="left:529.70px;top:122.17px;font-size:8.3px;letter-spacing:1.026px;color:#0f0;-webkit-text-stroke:0.35px #0f0;">dist</span>
<span class="t" style="left:550.70px;top:122.17px;font-size:8.3px;letter-spacing:1.137px;color:#0f0;-webkit-text-stroke:0.35px #0f0;">burst</span>
<span class="t" style="left:577.70px;top:122.17px;font-size:8.3px;letter-spacing:-0.062px;color:#0f0;-webkit-text-stroke:0.35px #0f0;">SC4</span>
<span class="t" style="left:598.70px;top:122.17px;font-size:8.3px;letter-spacing:0.349px;color:#0f0;-webkit-text-stroke:0.35px #0f0;">MMS4</span>
<span class="t" style="left:508.70px;top:153.17px;font-size:8.3px;letter-spacing:0.969px;color:#f00;-webkit-text-stroke:0.35px #f00;">edi</span>
<span class="t" style="left:527.70px;top:153.17px;font-size:8.3px;letter-spacing:0.234px;color:#f00;-webkit-text-stroke:0.35px #f00;">ex</span>
<span class="t" style="left:542.70px;top:153.17px;font-size:8.3px;letter-spacing:1.312px;color:#f00;-webkit-text-stroke:0.35px #f00;">gse</span>
<span class="t" style="left:563.70px;top:153.17px;font-size:8.3px;letter-spacing:0.000px;color:#f00;-webkit-text-stroke:0.35px #f00;transform-origin:0 0;transform:scaleX(0.9298);">l2</span>
<span class="t" style="left:574.70px;top:153.17px;font-size:8.3px;letter-spacing:0.682px;color:#f00;-webkit-text-stroke:0.35px #f00;">MMS2</span>
<span class="t" style="left:508.70px;top:172.17px;font-size:8.3px;letter-spacing:0.969px;color:#0f0;-webkit-text-stroke:0.35px #0f0;">edi</span>
<span class="t" style="left:527.70px;top:172.17px;font-size:8.3px;letter-spacing:0.234px;color:#0f0;-webkit-text-stroke:0.35px #0f0;">ey</span>
<span class="t" style="left:542.70px;top:172.17px;font-size:8.3px;letter-spacing:1.312px;color:#0f0;-webkit-text-stroke:0.35px #0f0;">gse</span>
<span class="t" style="left:563.70px;top:172.17px;font-size:8.3px;letter-spacing:0.000px;color:#0f0;-webkit-text-stroke:0.35px #0f0;transform-origin:0 0;transform:scaleX(0.9298);">l2</span>
<span class="t" style="left:574.70px;top:172.17px;font-size:8.3px;letter-spacing:0.682px;color:#0f0;-webkit-text-stroke:0.35px #0f0;">MMS2</span>
<span class="t" style="left:508.70px;top:191.17px;font-size:8.3px;letter-spacing:0.969px;color:#00f;-webkit-text-stroke:0.35px #00f;">edi</span>
<span class="t" style="left:527.70px;top:191.17px;font-size:8.3px;letter-spacing:0.234px;color:#00f;-webkit-text-stroke:0.35px #00f;">ez</span>
<span class="t" style="left:542.70px;top:191.17px;font-size:8.3px;letter-spacing:1.312px;color:#00f;-webkit-text-stroke:0.35px #00f;">gse</span>
<span class="t" style="left:563.70px;top:191.17px;font-size:8.3px;letter-spacing:0.000px;color:#00f;-webkit-text-stroke:0.35px #00f;transform-origin:0 0;transform:scaleX(0.9298);">l2</span>
<span class="t" style="left:574.70px;top:191.17px;font-size:8.3px;letter-spacing:0.682px;color:#00f;-webkit-text-stroke:0.35px #00f;">MMS2</span>
<span class="t" style="left:508.70px;top:727.17px;font-size:8.3px;letter-spacing:0.562px;color:#f00;-webkit-text-stroke:0.35px #f00;">divPe</span>
<span class="t" style="left:537.12px;top:727.17px;font-size:8.3px;letter-spacing:0.000px;color:#f00;-webkit-text-stroke:0.35px #f00;">x</span>
<span class="t" style="left:547.70px;top:727.17px;font-size:8.3px;letter-spacing:0.812px;color:#f00;-webkit-text-stroke:0.35px #f00;">gse</span>
<span class="t" style="left:566.70px;top:727.17px;font-size:8.3px;letter-spacing:0.682px;color:#f00;-webkit-text-stroke:0.35px #f00;">MMS2</span>
<span class="t" style="left:508.70px;top:746.17px;font-size:8.3px;letter-spacing:0.562px;color:#0f0;-webkit-text-stroke:0.35px #0f0;">divPe</span>
<span class="t" style="left:537.12px;top:746.17px;font-size:8.3px;letter-spacing:0.000px;color:#0f0;-webkit-text-stroke:0.35px #0f0;">y</span>
<span class="t" style="left:547.70px;top:746.17px;font-size:8.3px;letter-spacing:0.812px;color:#0f0;-webkit-text-stroke:0.35px #0f0;">gse</span>
<span class="t" style="left:566.70px;top:746.17px;font-size:8.3px;letter-spacing:0.682px;color:#0f0;-webkit-text-stroke:0.35px #0f0;">MMS2</span>
<span class="t" style="left:508.70px;top:765.17px;font-size:8.3px;letter-spacing:0.562px;color:#00f;-webkit-text-stroke:0.35px #00f;">divPe</span>
<span class="t" style="left:537.12px;top:765.17px;font-size:8.3px;letter-spacing:0.000px;color:#00f;-webkit-text-stroke:0.35px #00f;">z</span>
<span class="t" style="left:547.70px;top:765.17px;font-size:8.3px;letter-spacing:0.812px;color:#00f;-webkit-text-stroke:0.35px #00f;">gse</span>
<span class="t" style="left:566.70px;top:765.17px;font-size:8.3px;letter-spacing:0.682px;color:#00f;-webkit-text-stroke:0.35px #00f;">MMS2</span>
<span class="t" style="left:508.70px;top:799.17px;font-size:8.3px;letter-spacing:0.504px;color:#f00;-webkit-text-stroke:0.35px #f00;">divPi</span>
<span class="t" style="left:535.12px;top:799.17px;font-size:8.3px;letter-spacing:0.000px;color:#f00;-webkit-text-stroke:0.35px #f00;">x</span>
<span class="t" style="left:544.70px;top:799.17px;font-size:8.3px;letter-spacing:0.812px;color:#f00;-webkit-text-stroke:0.35px #f00;">gse</span>
<span class="t" style="left:563.70px;top:799.17px;font-size:8.3px;letter-spacing:0.682px;color:#f00;-webkit-text-stroke:0.35px #f00;">MMS2</span>
<span class="t" style="left:508.70px;top:818.17px;font-size:8.3px;letter-spacing:0.504px;color:#0f0;-webkit-text-stroke:0.35px #0f0;">divPi</span>
<span class="t" style="left:535.12px;top:818.17px;font-size:8.3px;letter-spacing:0.000px;color:#0f0;-webkit-text-stroke:0.35px #0f0;">y</span>
<span class="t" style="left:544.70px;top:818.17px;font-size:8.3px;letter-spacing:0.812px;color:#0f0;-webkit-text-stroke:0.35px #0f0;">gse</span>
<span class="t" style="left:563.70px;top:818.17px;font-size:8.3px;letter-spacing:0.682px;color:#0f0;-webkit-text-stroke:0.35px #0f0;">MMS2</span>
<span class="t" style="left:508.70px;top:837.17px;font-size:8.3px;letter-spacing:0.504px;color:#00f;-webkit-text-stroke:0.35px #00f;">divPi</span>
<span class="t" style="left:535.12px;top:837.17px;font-size:8.3px;letter-spacing:0.000px;color:#00f;-webkit-text-stroke:0.35px #00f;">z</span>
<span class="t" style="left:544.70px;top:837.17px;font-size:8.3px;letter-spacing:0.812px;color:#00f;-webkit-text-stroke:0.35px #00f;">gse</span>
<span class="t" style="left:563.70px;top:837.17px;font-size:8.3px;letter-spacing:0.682px;color:#00f;-webkit-text-stroke:0.35px #00f;">MMS2</span>
<span class="t" style="left:518.80px;top:238.69px;font-size:11px;letter-spacing:0.000px;transform-origin:0 0;transform:scaleX(0.8681);">EIS</span>
<span class="t" style="left:482.50px;top:246.69px;font-size:11px;letter-spacing:0.013px;">(srvy</span>
<span class="t" style="left:512.00px;top:246.69px;font-size:11px;letter-spacing:0.105px;">electron</span>
<span class="t" style="left:555.50px;top:246.69px;font-size:11px;letter-spacing:0.072px;">t0)</span>
<span class="t" style="left:511.62px;top:267.69px;font-size:11px;letter-spacing:0.000px;transform-origin:0 0;transform:scaleX(0.9362);">MMS2</span>
<span class="t" style="left:507.57px;top:310.69px;font-size:11px;letter-spacing:0.000px;transform-origin:0 0;transform:scaleX(0.8486);">FEEPSE</span>
<span class="t" style="left:511.62px;top:338.69px;font-size:11px;letter-spacing:0.000px;transform-origin:0 0;transform:scaleX(0.9362);">MMS2</span>
<span class="t" style="left:509.25px;top:381.69px;font-size:11px;letter-spacing:0.000px;transform-origin:0 0;transform:scaleX(0.8556);">FEEPSI</span>
<span class="t" style="left:511.62px;top:410.69px;font-size:11px;letter-spacing:0.000px;transform-origin:0 0;transform:scaleX(0.9362);">MMS2</span>
<span class="t" style="left:512.41px;top:444.69px;font-size:11px;letter-spacing:0.000px;transform-origin:0 0;transform:scaleX(0.8892);">HPCA</span>
<span class="t" style="left:511.62px;top:463.69px;font-size:11px;letter-spacing:0.000px;transform-origin:0 0;transform:scaleX(0.9362);">MMS2</span>
<span class="t" style="left:518.83px;top:482.69px;font-size:11px;letter-spacing:0.000px;">H</span>
<span class="t" style="left:525.84px;top:476.51px;font-size:10.5px;letter-spacing:0.000px;">+</span>
<span class="t" style="left:512.41px;top:515.69px;font-size:11px;letter-spacing:0.000px;transform-origin:0 0;transform:scaleX(0.8892);">HPCA</span>
<span class="t" style="left:511.62px;top:535.69px;font-size:11px;letter-spacing:0.000px;transform-origin:0 0;transform:scaleX(0.9362);">MMS2</span>
<span class="t" style="left:515.50px;top:554.69px;font-size:11px;letter-spacing:0.000px;transform-origin:0 0;transform:scaleX(0.9529);">He</span>
<span class="t" style="left:528.84px;top:548.51px;font-size:10.5px;letter-spacing:0.000px;">+</span>
<span class="t" style="left:512.41px;top:587.69px;font-size:11px;letter-spacing:0.000px;transform-origin:0 0;transform:scaleX(0.8892);">HPCA</span>
<span class="t" style="left:511.62px;top:606.69px;font-size:11px;letter-spacing:0.000px;transform-origin:0 0;transform:scaleX(0.9362);">MMS2</span>
<span class="t" style="left:512.50px;top:625.69px;font-size:11px;letter-spacing:0.000px;transform-origin:0 0;transform:scaleX(0.9387);">He</span>
<span class="t" style="left:525.84px;top:619.51px;font-size:10.5px;letter-spacing:0.000px;">+</span>
<span class="t" style="left:532.84px;top:619.51px;font-size:10.5px;letter-spacing:0.000px;">+</span>
<span class="t" style="left:512.41px;top:659.69px;font-size:11px;letter-spacing:0.000px;transform-origin:0 0;transform:scaleX(0.8892);">HPCA</span>
<span class="t" style="left:511.62px;top:678.69px;font-size:11px;letter-spacing:0.000px;transform-origin:0 0;transform:scaleX(0.9362);">MMS2</span>
<span class="t" style="left:518.72px;top:697.69px;font-size:11px;letter-spacing:0.000px;">O</span>
<span class="t" style="left:526.84px;top:691.51px;font-size:10.5px;letter-spacing:0.000px;">+</span>
<span class="t" style="left:565.40px;top:218.69px;font-size:11px;letter-spacing:0.177px;">Log flux</span>
<span class="t" style="left:583.70px;top:233.69px;font-size:11px;letter-spacing:-0.056px;">0.0</span>
<span class="t" style="left:583.70px;top:242.69px;font-size:11px;letter-spacing:-0.056px;">0.0</span>
<span class="t" style="left:583.70px;top:252.69px;font-size:11px;letter-spacing:-0.056px;">0.0</span>
<span class="t" style="left:583.70px;top:261.69px;font-size:11px;letter-spacing:-0.056px;">0.0</span>
<span class="t" style="left:565.40px;top:290.69px;font-size:11px;letter-spacing:0.177px;">Log flux</span>
<span class="t" style="left:583.70px;top:305.69px;font-size:11px;letter-spacing:-0.056px;">0.0</span>
<span class="t" style="left:583.70px;top:314.69px;font-size:11px;letter-spacing:-0.056px;">0.0</span>
<span class="t" style="left:583.70px;top:324.69px;font-size:11px;letter-spacing:-0.056px;">0.0</span>
<span class="t" style="left:583.70px;top:333.69px;font-size:11px;letter-spacing:-0.056px;">0.0</span>
<span class="t" style="left:565.40px;top:362.69px;font-size:11px;letter-spacing:0.177px;">Log flux</span>
<span class="t" style="left:583.70px;top:376.69px;font-size:11px;letter-spacing:-0.056px;">0.0</span>
<span class="t" style="left:583.70px;top:386.69px;font-size:11px;letter-spacing:-0.056px;">0.0</span>
<span class="t" style="left:583.70px;top:395.69px;font-size:11px;letter-spacing:-0.056px;">0.0</span>
<span class="t" style="left:583.70px;top:405.69px;font-size:11px;letter-spacing:-0.056px;">0.0</span>
<span class="t" style="left:565.40px;top:434.69px;font-size:11px;letter-spacing:0.222px;">Log fdist</span>
<span class="t" style="left:583.70px;top:448.69px;font-size:11px;letter-spacing:-0.056px;">0.0</span>
<span class="t" style="left:583.70px;top:458.69px;font-size:11px;letter-spacing:-0.056px;">0.0</span>
<span class="t" style="left:583.70px;top:467.69px;font-size:11px;letter-spacing:-0.056px;">0.0</span>
<span class="t" style="left:583.70px;top:477.69px;font-size:11px;letter-spacing:-0.056px;">0.0</span>
<span class="t" style="left:565.40px;top:505.69px;font-size:11px;letter-spacing:0.222px;">Log fdist</span>
<span class="t" style="left:583.70px;top:520.69px;font-size:11px;letter-spacing:-0.056px;">0.0</span>
<span class="t" style="left:583.70px;top:529.69px;font-size:11px;letter-spacing:-0.056px;">0.0</span>
<span class="t" style="left:583.70px;top:539.69px;font-size:11px;letter-spacing:-0.056px;">0.0</span>
<span class="t" style="left:583.70px;top:548.69px;font-size:11px;letter-spacing:-0.056px;">0.0</span>
<span class="t" style="left:565.40px;top:577.69px;font-size:11px;letter-spacing:0.222px;">Log fdist</span>
<span class="t" style="left:583.70px;top:592.69px;font-size:11px;letter-spacing:-0.056px;">0.0</span>
<span class="t" style="left:583.70px;top:601.69px;font-size:11px;letter-spacing:-0.056px;">0.0</span>
<span class="t" style="left:583.70px;top:611.69px;font-size:11px;letter-spacing:-0.056px;">0.0</span>
<span class="t" style="left:583.70px;top:620.69px;font-size:11px;letter-spacing:-0.056px;">0.0</span>
<span class="t" style="left:565.40px;top:649.69px;font-size:11px;letter-spacing:0.222px;">Log fdist</span>
<span class="t" style="left:583.70px;top:663.69px;font-size:11px;letter-spacing:-0.056px;">0.0</span>
<span class="t" style="left:583.70px;top:673.69px;font-size:11px;letter-spacing:-0.056px;">0.0</span>
<span class="t" style="left:583.70px;top:682.69px;font-size:11px;letter-spacing:-0.056px;">0.0</span>
<span class="t" style="left:583.70px;top:692.69px;font-size:11px;letter-spacing:-0.056px;">0.0</span>
</div>
<svg width="630" height="934" viewBox="0 0 630 934" shape-rendering="crispEdges" style="position:absolute;left:0;top:0"><rect x="565" y="233" width="12" height="31" fill="#000"/><rect x="566" y="235" width="10" height="28" fill="url(#rb)"/><rect x="565" y="305" width="12" height="31" fill="#000"/><rect x="566" y="306" width="10" height="29" fill="url(#rb)"/><rect x="565" y="377" width="12" height="30" fill="#000"/><rect x="566" y="378" width="10" height="28" fill="url(#rb)"/><rect x="565" y="448" width="12" height="31" fill="#000"/><rect x="566" y="450" width="10" height="28" fill="url(#rb)"/><rect x="565" y="520" width="12" height="31" fill="#000"/><rect x="566" y="522" width="10" height="28" fill="url(#rb)"/><rect x="565" y="592" width="12" height="31" fill="#000"/><rect x="566" y="593" width="10" height="29" fill="url(#rb)"/><rect x="565" y="664" width="12" height="30" fill="#000"/><rect x="566" y="665" width="10" height="28" fill="url(#rb)"/></svg>
</body></html>
